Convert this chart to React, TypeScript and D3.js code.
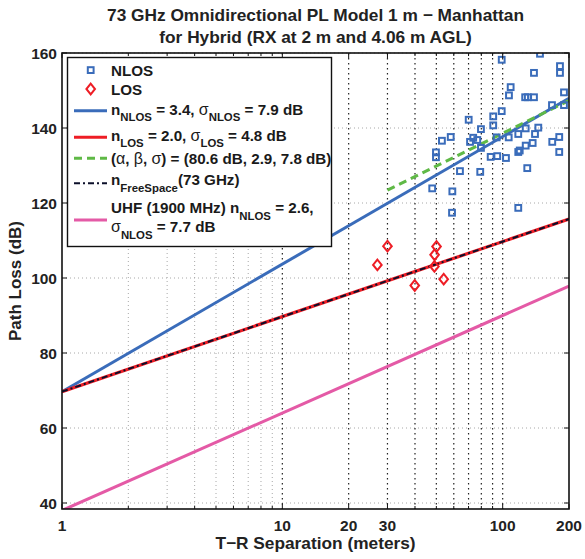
import React, {useEffect, useRef} from 'react';
import * as d3 from 'd3';

const nlosDist = [47.9, 49.8, 49.8, 53.0, 58.1, 59.1, 58.9, 64.0, 70.1, 71.1, 73.5, 76.7, 79.1, 79.7, 79.7, 88.2,
    90.6, 90.6, 94.5, 93.9, 99.0, 99.0, 103.5, 106.5, 106.8, 108.7, 117.7, 117.7, 117.7, 119.5, 127.2, 127.2, 126.5,
    130.0, 129.3, 136.8, 138.7, 138.7, 140.2, 145.1, 147.7, 167.4, 167.9, 180.6, 180.6, 182.0, 182.0, 189.8, 189.8];
const nlosPL = [123.9, 133.5, 132.2, 136.6, 137.6, 123.1, 117.4, 128.5, 142.2, 136.3, 137.4, 136.8, 128.3, 139.7, 134.7, 132.3,
    143.1, 140.7, 132.5, 137.5, 158.2, 144.5, 132.0, 137.5, 148.7, 150.9, 138.4, 133.6, 118.7, 134.0, 139.9, 135.3, 148.2,
    148.2, 129.3, 136.0, 154.7, 148.2, 138.4, 140.1, 159.8, 146.1, 136.3, 137.6, 133.6, 156.5, 154.7, 149.5, 146.1];
const losDist = [27.0, 30.0, 39.9, 50.1, 49.1, 49.0, 54.0];
const losPL = [103.5, 108.5, 98.0, 108.4, 106.2, 103.1, 99.7];

// model fits (PL = PL0 + 10 n log10(d))
const fspl73 = 69.7;   // free space 1 m, 73 GHz
const fsplUhf = 38.0;  // free space 1 m, 1900 MHz
const nNLOS = 3.4;
const nLOS = 2.0;
const nUHF = 2.6;
const abAlpha = 80.6;
const abBeta = 2.9;
const abRange = [30, 200];
const fullRange = [1, 200];

const xTicks = [1, 10, 20, 30, 100, 200];
const xGridMinor = [2, 3, 4, 5, 6, 7, 8, 9];
const xGridMajor = [10, 20, 30, 40, 50, 60, 70, 80, 90, 100];
const yTicks = [40, 60, 80, 100, 120, 140, 160];

const FONT = '"Liberation Sans", Arial, Helvetica, sans-serif';
const BLUE = '#3a6cba';
const RED = '#ee1d25';
const GREEN = '#5fb946';
const PINK = '#e45aa6';
const DARK = '#0b0f2a';

function App() {
    const ref = useRef(null);

    useEffect(() => {
        drawChart();
    }, []);

    function drawChart() {
        const width = 585;
        const height = 559;
        const left = 62, right = 569, top = 53, bottom = 509;

        d3.select(ref.current).selectAll('*').remove();

        const svg = d3.select(ref.current)
            .append('svg')
            .attr('width', width)
            .attr('height', height)
            .style('position', 'absolute')
            .style('left', '0px')
            .style('top', '0px')
            .style('background', '#fff')
            .style('font-family', FONT);

        const x = d3.scaleLog().domain([1, 200]).range([left, right]);
        const y = d3.scaleLinear().domain([38.4, 160]).range([bottom, top]);

        svg.append('rect').attr('width', width).attr('height', height).attr('fill', '#fff');

        svg.append('defs').append('clipPath').attr('id', 'plotclip')
            .append('rect')
            .attr('x', left).attr('y', top)
            .attr('width', right - left).attr('height', bottom - top);

        // grid
        const grid = svg.append('g');
        grid.selectAll('.hg').data(yTicks).enter().append('line')
            .attr('x1', left).attr('x2', right)
            .attr('y1', d => y(d)).attr('y2', d => y(d))
            .attr('stroke', '#a8a8a8').attr('stroke-width', 1)
            .attr('stroke-dasharray', '1,3');
        grid.selectAll('.vgm').data(xGridMinor).enter().append('line')
            .attr('x1', d => x(d)).attr('x2', d => x(d))
            .attr('y1', top).attr('y2', bottom)
            .attr('stroke', '#a8a8a8').attr('stroke-width', 1)
            .attr('stroke-dasharray', '1,3');
        grid.selectAll('.vgM').data(xGridMajor).enter().append('line')
            .attr('x1', d => x(d)).attr('x2', d => x(d))
            .attr('y1', top).attr('y2', bottom)
            .attr('stroke', '#222').attr('stroke-width', 1.2)
            .attr('stroke-dasharray', '1.5,3.5');

        // model lines
        const plot = svg.append('g').attr('clip-path', 'url(#plotclip)');

        const addModel = (range, pl0, n, color, w, dash) => {
            const l = d3.line<number>()
                .x(d => x(d))
                .y(d => y(pl0 + 10 * n * Math.log10(d)));
            plot.append('path')
                .attr('d', l(range))
                .attr('fill', 'none')
                .attr('stroke', color)
                .attr('stroke-width', w)
                .attr('stroke-dasharray', dash);
        };
        addModel(fullRange, fsplUhf, nUHF, PINK, 3, null);
        addModel(fullRange, fspl73, nNLOS, BLUE, 3, null);
        addModel(abRange, abAlpha, abBeta, GREEN, 3, '8,5');
        addModel(fullRange, fspl73, nLOS, RED, 3.2, null);
        addModel(fullRange, fspl73, 2.0, DARK, 2, '6,3,2,3');

        // scatter
        const nlos = nlosDist.map((d, i) => ({d, pl: nlosPL[i]}));
        const los = losDist.map((d, i) => ({d, pl: losPL[i]}));

        plot.selectAll('.sq').data(nlos).enter().append('rect')
            .attr('x', p => x(p.d) - 2.9)
            .attr('y', p => y(p.pl) - 2.9)
            .attr('width', 5.8).attr('height', 5.8)
            .attr('fill', 'none')
            .attr('stroke', BLUE)
            .attr('stroke-width', 2);

        const diamond = (cx, cy) => `M${cx},${cy - 5.3}L${cx + 4.3},${cy}L${cx},${cy + 5.3}L${cx - 4.3},${cy}Z`;
        plot.selectAll('.dm').data(los).enter().append('path')
            .attr('d', p => diamond(x(p.d), y(p.pl)))
            .attr('fill', 'none')
            .attr('stroke', RED)
            .attr('stroke-width', 2);

        // frame + ticks
        svg.append('rect')
            .attr('x', left).attr('y', top)
            .attr('width', right - left).attr('height', bottom - top)
            .attr('fill', 'none').attr('stroke', '#111').attr('stroke-width', 1.6);

        const allX = [...xGridMinor, ...xGridMajor].filter(v => !xTicks.includes(v));
        const tk = svg.append('g').attr('stroke', '#111').attr('stroke-width', 1);
        xTicks.concat(allX).forEach(v => {
            const len = xTicks.includes(v) ? 5 : 3;
            tk.append('line').attr('x1', x(v)).attr('x2', x(v)).attr('y1', bottom).attr('y2', bottom - len);
            tk.append('line').attr('x1', x(v)).attr('x2', x(v)).attr('y1', top).attr('y2', top + len);
        });
        yTicks.forEach(v => {
            tk.append('line').attr('x1', left).attr('x2', left + 5).attr('y1', y(v)).attr('y2', y(v));
            tk.append('line').attr('x1', right).attr('x2', right - 5).attr('y1', y(v)).attr('y2', y(v));
        });

        // tick labels
        svg.selectAll('.xl').data(xTicks).enter().append('text')
            .attr('x', d => x(d)).attr('y', 531)
            .attr('text-anchor', 'middle')
            .attr('font-size', 15.5).attr('font-weight', 'bold').attr('fill', '#222')
            .text(d => String(d));
        svg.selectAll('.yl').data(yTicks).enter().append('text')
            .attr('x', 57).attr('y', d => y(d) + 5.6)
            .attr('text-anchor', 'end')
            .attr('font-size', 15.5).attr('font-weight', 'bold').attr('fill', '#222')
            .text(d => String(d));

        // titles
        svg.append('text')
            .attr('x', (left + right) / 2).attr('y', 21)
            .attr('text-anchor', 'middle')
            .attr('font-size', 17.3).attr('font-weight', 'bold').attr('fill', '#222')
            .text('73 GHz Omnidirectional PL Model 1 m \u2212 Manhattan');
        svg.append('text')
            .attr('x', (left + right) / 2).attr('y', 43)
            .attr('text-anchor', 'middle')
            .attr('font-size', 17.3).attr('font-weight', 'bold').attr('fill', '#222')
            .text('for Hybrid (RX at 2 m and 4.06 m AGL)');
        svg.append('text')
            .attr('x', (left + right) / 2).attr('y', 549)
            .attr('text-anchor', 'middle')
            .attr('font-size', 17.3).attr('font-weight', 'bold').attr('fill', '#222')
            .text('T\u2212R Separation (meters)');
        svg.append('text')
            .attr('transform', 'translate(21,281) rotate(-90)')
            .attr('text-anchor', 'middle')
            .attr('font-size', 17).attr('font-weight', 'bold').attr('fill', '#222')
            .text('Path Loss (dB)');

        // legend
        const lg = svg.append('g');
        lg.append('rect')
            .attr('x', 67.5).attr('y', 57.5).attr('width', 264).attr('height', 189)
            .attr('fill', '#fff').attr('stroke', '#111').attr('stroke-width', 1.4);

        const rich = (tx, ty, parts) => {
            const t = lg.append('text').attr('x', tx).attr('y', ty)
                .attr('font-size', 15.2).attr('font-weight', 'bold').attr('fill', '#1a1a1a');
            let off = 0;
            parts.forEach(p => {
                const target = p.sub ? 6.5 : 0;
                const s = t.append('tspan').attr('dy', target - off).text(p.t);
                if (p.sub) s.attr('font-size', 11.4);
                if (p.greek) s.attr('font-weight', 'normal').attr('font-size', p.sub ? 11.4 : 16);
                off = target;
            });
        };
        const sample = (ly, color, w, dash) => {
            lg.append('line').attr('x1', 74).attr('x2', 107).attr('y1', ly).attr('y2', ly)
                .attr('stroke', color).attr('stroke-width', w).attr('stroke-dasharray', dash);
        };

        lg.append('rect').attr('x', 87.8).attr('y', 67.2).attr('width', 5.8).attr('height', 5.8)
            .attr('fill', 'none').attr('stroke', BLUE).attr('stroke-width', 2);
        rich(111, 76, [{t: 'NLOS'}]);
        lg.append('path').attr('d', diamond(90.7, 89)).attr('fill', 'none').attr('stroke', RED).attr('stroke-width', 2);
        rich(111, 94.5, [{t: 'LOS'}]);

        sample(110.7, BLUE, 3, null);
        rich(111, 114.5, [{t: 'n'}, {t: 'NLOS', sub: true}, {t: ' = 3.4, '}, {t: '\u03c3', greek: true},
            {t: 'NLOS', sub: true}, {t: ' = 7.9 dB'}]);
        sample(137.3, RED, 3, null);
        rich(111, 140.5, [{t: 'n'}, {t: 'LOS', sub: true}, {t: ' = 2.0, '}, {t: '\u03c3', greek: true},
            {t: 'LOS', sub: true}, {t: ' = 4.8 dB'}]);
        sample(158.3, GREEN, 3, '8,5');
        rich(111, 163.5, [{t: '('}, {t: '\u03b1', greek: true}, {t: ', '}, {t: '\u03b2', greek: true}, {t: ', '},
            {t: '\u03c3', greek: true}, {t: ') = (80.6 dB, 2.9, 7.8 dB)'}]);
        sample(183.3, DARK, 2, '6,3,2,3');
        rich(111, 185, [{t: 'n'}, {t: 'FreeSpace', sub: true}, {t: '(73 GHz)'}]);
        sample(220, PINK, 3, null);
        rich(111, 213, [{t: 'UHF (1900 MHz) n'}, {t: 'NLOS', sub: true}, {t: ' = 2.6,'}]);
        rich(111, 232, [{t: '\u03c3', greek: true}, {t: 'NLOS', sub: true}, {t: ' = 7.7 dB'}]);
    }

    return <div ref={ref}/>;
}

export default App;
